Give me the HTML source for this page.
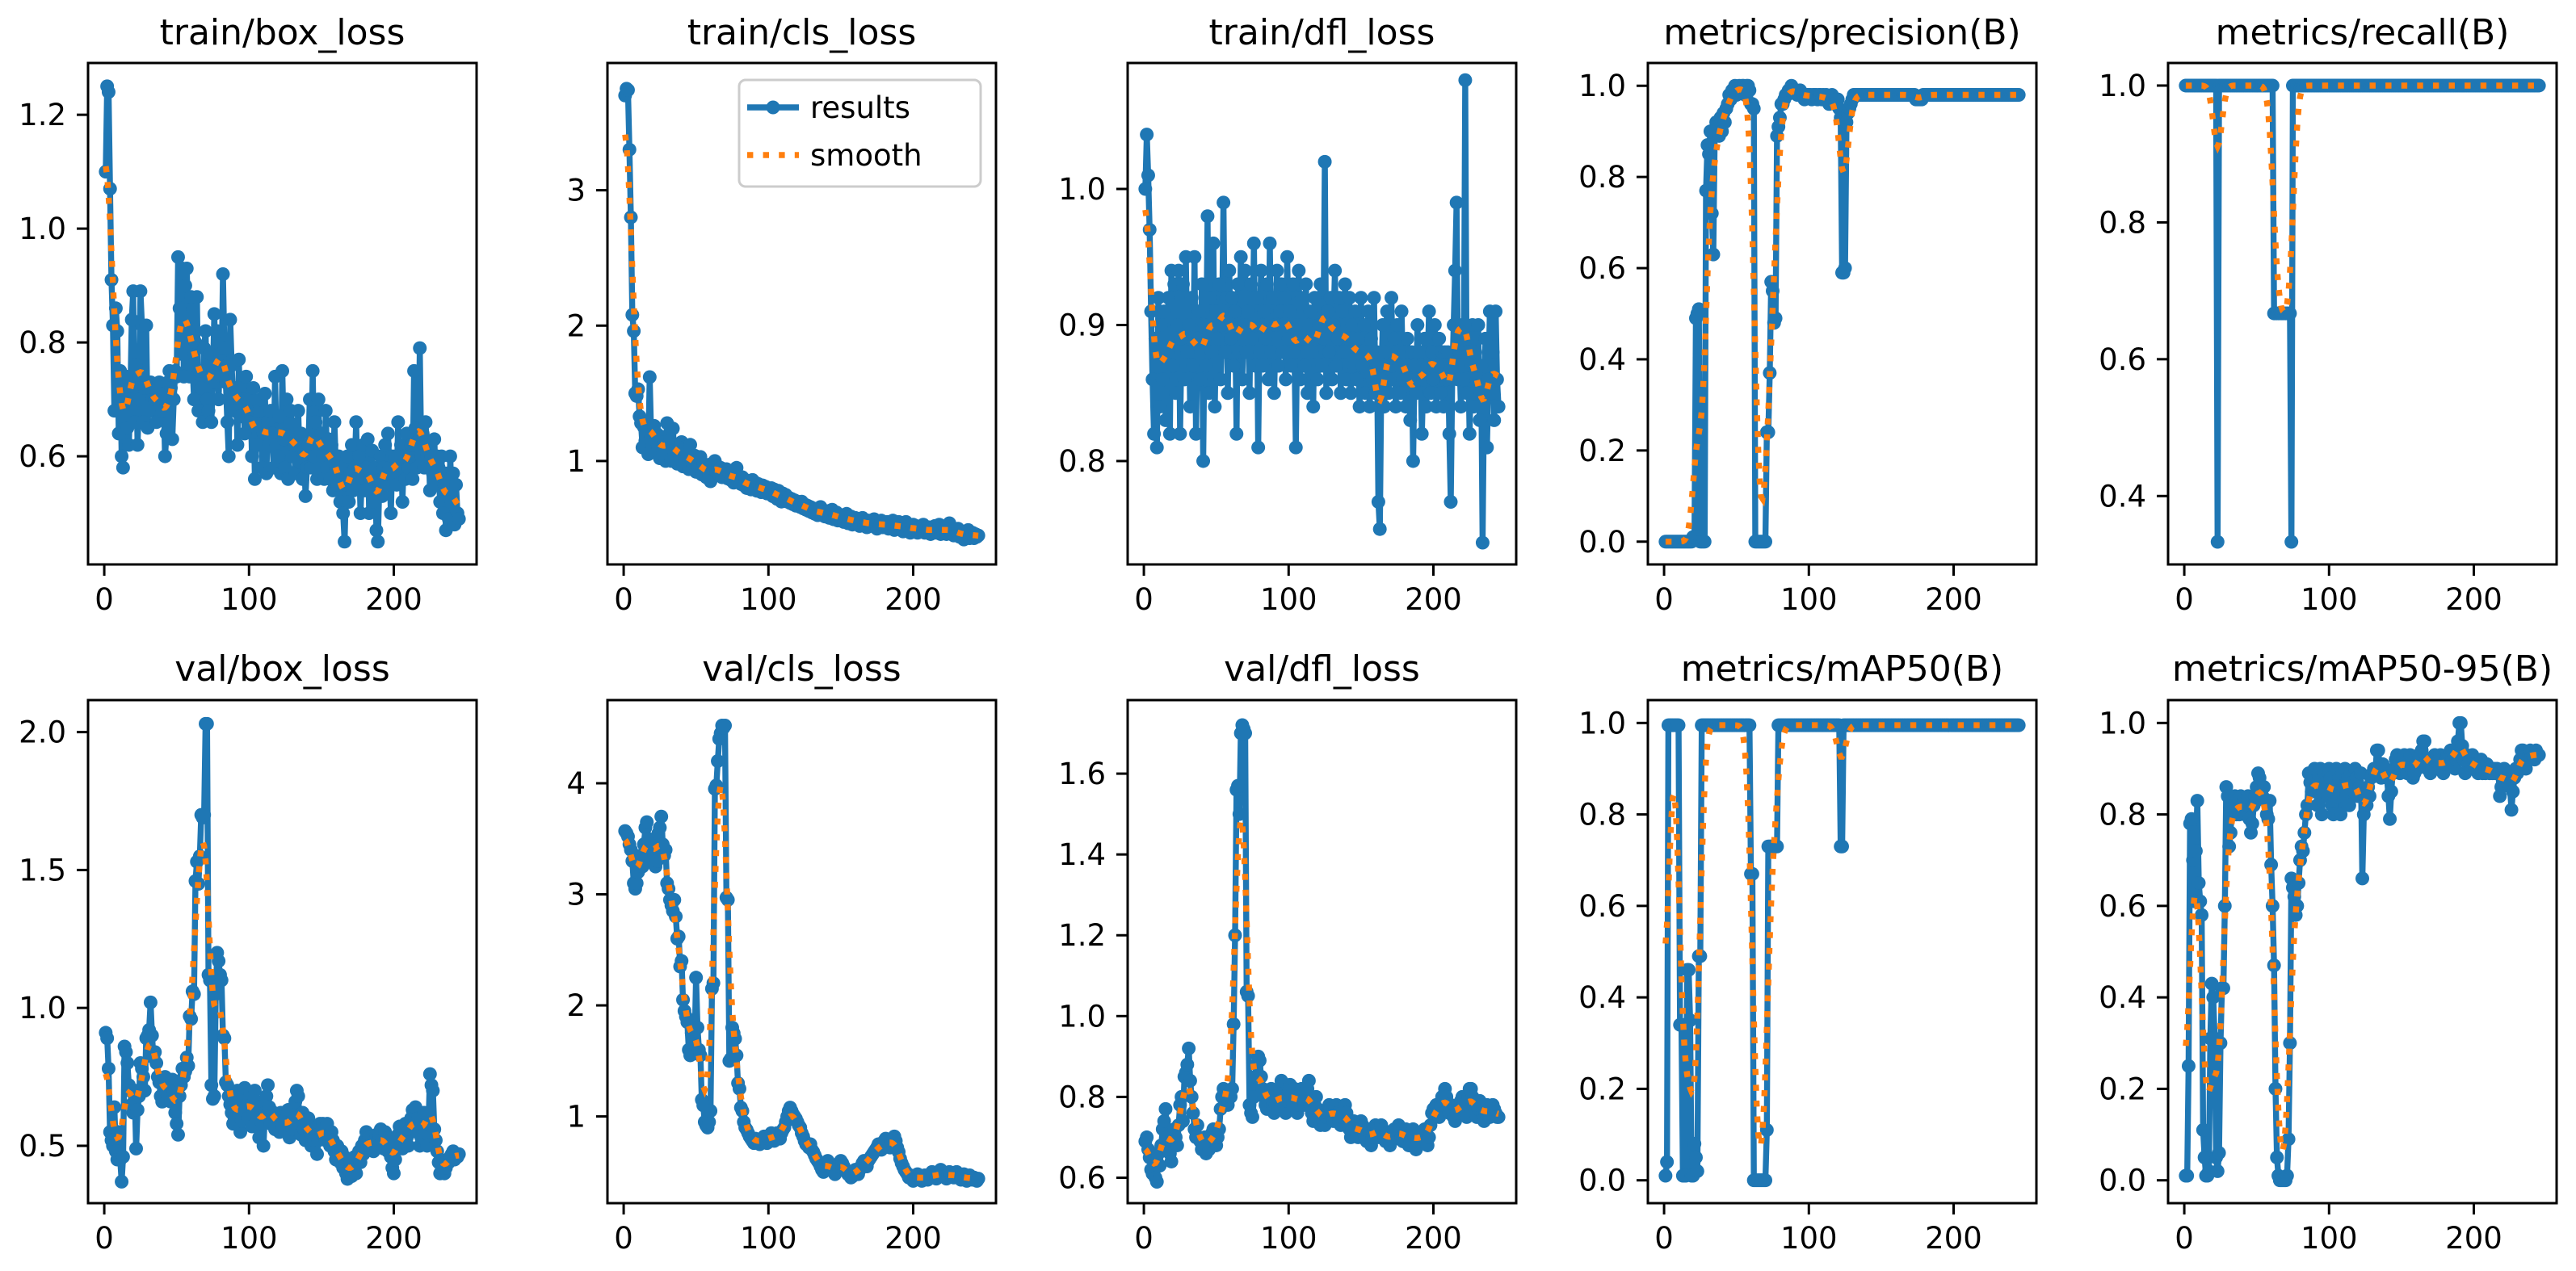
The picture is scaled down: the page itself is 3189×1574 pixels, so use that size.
<!DOCTYPE html>
<html><head><meta charset="utf-8"><title>results</title>
<style>html,body{margin:0;padding:0;background:#fff}svg{display:block}text{font-family:"DejaVu Sans","Liberation Sans",sans-serif}</style>
</head><body>
<svg id="chart" xmlns="http://www.w3.org/2000/svg" width="3189" height="1574" viewBox="0 0 3189 1574">
<rect width="3189" height="1574" fill="#fff"/>
</svg>
<script>
const titles = ["train/box_loss","train/cls_loss","train/dfl_loss","metrics/precision(B)","metrics/recall(B)","val/box_loss","val/cls_loss","val/dfl_loss","metrics/mAP50(B)","metrics/mAP50-95(B)"];
const xTicks = [0,100,200];
const yTicks0 = [0.6,0.8,1.0,1.2];
const yTicks1 = [1,2,3];
const yTicks2 = [0.8,0.9,1.0];
const yTicks3 = [0.0,0.2,0.4,0.6,0.8,1.0];
const yTicks4 = [0.4,0.6,0.8,1.0];
const yTicks5 = [0.5,1.0,1.5,2.0];
const yTicks6 = [1,2,3,4];
const yTicks7 = [0.6,0.8,1.0,1.2,1.4,1.6];
const yTicks8 = [0.0,0.2,0.4,0.6,0.8,1.0];
const yTicks9 = [0.0,0.2,0.4,0.6,0.8,1.0];
const yLims = [[0.41,1.291],[0.236,3.94],[0.724,1.0926],[-0.05,1.05],[0.3,1.033],[0.292,2.116],[0.219,4.749],[0.537,1.782],[-0.05,1.05],[-0.05,1.05]];

const trainBox = [1.10,1.25,1.24,1.07,0.91,0.83,0.68,0.86,0.82,0.64,
0.75,0.60,0.58,0.67,0.74,0.65,0.62,0.70,0.84,0.89,
0.66,0.76,0.62,0.70,0.89,0.83,0.66,0.72,0.83,0.65,
0.72,0.73,0.68,0.72,0.70,0.66,0.71,0.73,0.69,0.68,
0.71,0.60,0.64,0.73,0.75,0.72,0.63,0.70,0.75,0.74,
0.95,0.86,0.78,0.93,0.74,0.90,0.93,0.82,0.74,0.88,
0.76,0.70,0.80,0.88,0.68,0.75,0.72,0.66,0.79,0.82,
0.70,0.68,0.78,0.66,0.74,0.85,0.73,0.82,0.70,0.78,
0.74,0.92,0.79,0.73,0.66,0.60,0.84,0.76,0.70,0.68,
0.72,0.62,0.77,0.67,0.72,0.70,0.64,0.74,0.68,0.66,
0.70,0.60,0.72,0.56,0.66,0.62,0.68,0.70,0.58,0.64,
0.71,0.57,0.66,0.62,0.68,0.64,0.58,0.74,0.62,0.60,
0.67,0.57,0.75,0.63,0.58,0.70,0.56,0.66,0.68,0.60,
0.62,0.57,0.63,0.68,0.59,0.64,0.56,0.61,0.53,0.58,
0.62,0.70,0.58,0.75,0.60,0.66,0.56,0.70,0.58,0.64,
0.60,0.56,0.68,0.58,0.63,0.56,0.62,0.54,0.66,0.58,
0.55,0.60,0.52,0.58,0.50,0.45,0.55,0.60,0.52,0.57,
0.62,0.54,0.58,0.66,0.55,0.60,0.50,0.57,0.62,0.54,
0.58,0.63,0.50,0.56,0.61,0.52,0.58,0.47,0.45,0.55,
0.60,0.53,0.58,0.62,0.55,0.64,0.58,0.50,0.60,0.56,
0.60,0.55,0.66,0.58,0.62,0.52,0.60,0.56,0.64,0.58,
0.60,0.62,0.56,0.75,0.65,0.58,0.62,0.79,0.60,0.64,
0.58,0.66,0.60,0.62,0.54,0.60,0.57,0.63,0.55,0.60,
0.58,0.52,0.60,0.50,0.55,0.47,0.57,0.49,0.60,0.52,
0.57,0.48,0.55,0.50,0.49];
const trainCls = [3.70,3.75,3.74,3.30,2.80,2.08,1.96,1.50,1.48,1.53,
1.33,1.28,1.10,1.25,1.15,1.22,1.05,1.62,1.18,1.12,
1.26,1.08,1.20,1.10,1.02,1.18,1.06,1.14,1.00,1.28,
1.08,1.15,1.00,1.24,1.05,1.12,0.98,1.08,1.02,1.14,
0.96,1.10,1.00,1.05,0.94,1.12,1.00,0.96,1.04,0.92,
1.00,0.95,1.03,0.90,0.98,0.93,0.88,0.96,0.90,0.85,
0.98,0.94,1.00,0.92,0.96,0.90,0.95,0.88,0.93,0.90,
0.94,0.87,0.91,0.86,0.90,0.84,0.89,0.95,0.85,0.88,
0.83,0.88,0.82,0.86,0.80,0.85,0.82,0.79,0.86,0.80,
0.84,0.78,0.83,0.80,0.77,0.82,0.78,0.81,0.76,0.80,
0.77,0.80,0.74,0.79,0.75,0.72,0.78,0.74,0.70,0.76,
0.72,0.75,0.70,0.73,0.69,0.72,0.68,0.71,0.67,0.70,
0.68,0.66,0.70,0.65,0.68,0.64,0.67,0.63,0.66,0.62,
0.65,0.61,0.64,0.60,0.63,0.66,0.60,0.62,0.59,0.61,
0.63,0.58,0.61,0.64,0.57,0.60,0.62,0.56,0.59,0.57,
0.60,0.55,0.58,0.61,0.54,0.57,0.59,0.53,0.56,0.58,
0.54,0.57,0.52,0.56,0.58,0.53,0.55,0.51,0.56,0.53,
0.55,0.52,0.57,0.53,0.50,0.55,0.52,0.56,0.51,0.54,
0.52,0.55,0.50,0.54,0.51,0.56,0.49,0.53,0.51,0.55,
0.50,0.53,0.48,0.52,0.55,0.49,0.52,0.47,0.51,0.53,
0.49,0.52,0.47,0.51,0.50,0.48,0.53,0.47,0.50,0.48,
0.51,0.46,0.50,0.48,0.52,0.47,0.49,0.53,0.46,0.50,
0.48,0.51,0.46,0.49,0.54,0.47,0.50,0.45,0.49,0.47,
0.50,0.44,0.48,0.46,0.42,0.47,0.45,0.49,0.43,0.46,
0.47,0.43,0.46,0.44,0.45];
const trainDfl = [1.00,1.04,1.01,0.97,0.91,0.86,0.82,0.89,0.81,0.92,
0.84,0.90,0.86,0.91,0.83,0.88,0.92,0.82,0.94,0.87,
0.93,0.85,0.90,0.94,0.82,0.89,0.93,0.86,0.95,0.88,
0.90,0.84,0.92,0.87,0.95,0.82,0.89,0.91,0.86,0.93,
0.80,0.90,0.87,0.98,0.85,0.92,0.88,0.96,0.84,0.91,
0.89,0.93,0.86,0.90,0.99,0.88,0.92,0.85,0.94,0.89,
0.92,0.87,0.91,0.82,0.93,0.88,0.95,0.86,0.90,0.94,
0.88,0.91,0.85,0.93,0.89,0.96,0.87,0.92,0.81,0.90,
0.94,0.87,0.91,0.89,0.93,0.86,0.96,0.88,0.92,0.85,
0.90,0.94,0.87,0.91,0.93,0.88,0.92,0.86,0.95,0.89,
0.91,0.87,0.93,0.88,0.81,0.90,0.94,0.86,0.92,0.89,
0.87,0.93,0.85,0.90,0.91,0.88,0.84,0.92,0.89,0.86,
0.90,0.93,0.87,0.89,1.02,0.85,0.91,0.88,0.92,0.86,
0.90,0.94,0.87,0.89,0.92,0.85,0.91,0.88,0.93,0.86,
0.89,0.92,0.85,0.90,0.87,0.91,0.86,0.89,0.84,0.92,
0.87,0.90,0.85,0.88,0.91,0.84,0.89,0.86,0.92,0.85,
0.88,0.77,0.75,0.86,0.90,0.84,0.88,0.91,0.85,0.87,
0.92,0.86,0.89,0.84,0.90,0.87,0.85,0.91,0.86,0.88,
0.84,0.89,0.86,0.83,0.88,0.80,0.87,0.85,0.90,0.86,
0.88,0.82,0.86,0.89,0.84,0.87,0.91,0.85,0.88,0.86,
0.90,0.84,0.87,0.89,0.85,0.88,0.84,0.88,0.86,0.88,
0.82,0.77,0.86,0.90,0.94,0.99,0.86,0.88,0.84,0.90,
0.86,1.08,0.85,0.88,0.82,0.87,0.90,0.84,0.88,0.86,
0.90,0.83,0.87,0.74,0.85,0.89,0.81,0.86,0.91,0.85,
0.88,0.83,0.91,0.86,0.84];
const precision = [0,0,0,0,0,0,0,0,0,0,
0,0,0,0,0,0,0,0,0,0.01,
0.01,0.49,0.50,0.51,0,0,0,0,0.77,0.87,
0.85,0.90,0.72,0.63,0.90,0.92,0.91,0.89,0.93,0.90,
0.94,0.92,0.95,0.96,0.98,0.97,0.99,0.99,1.0,0.98,
0.99,1.0,0.99,1.0,1.0,0.98,1.0,1.0,0.99,0.96,
0.96,0.95,0,0,0,0,0,0,0,0,
0.24,0.24,0.37,0.57,0.55,0.48,0.49,0.89,0.91,0.93,
0.96,0.96,0.97,0.98,0.98,0.99,0.99,1.0,0.99,0.99,
0.99,0.98,0.98,0.99,0.98,0.98,0.97,0.98,0.98,0.98,
0.98,0.97,0.98,0.98,0.98,0.97,0.98,0.98,0.97,0.98,
0.97,0.98,0.97,0.96,0.97,0.98,0.97,0.96,0.97,0.97,
0.95,0.93,0.59,0.59,0.60,0.92,0.94,0.95,0.96,0.97,
0.98,0.98,0.98,0.98,0.98,0.98,0.98,0.98,0.98,0.98,
0.98,0.98,0.98,0.98,0.98,0.98,0.98,0.98,0.98,0.98,
0.98,0.98,0.98,0.98,0.98,0.98,0.98,0.98,0.98,0.98,
0.98,0.98,0.98,0.98,0.98,0.98,0.98,0.98,0.98,0.98,
0.98,0.98,0.98,0.97,0.97,0.97,0.97,0.97,0.98,0.98,
0.98,0.98,0.98,0.98,0.98,0.98,0.98,0.98,0.98,0.98,
0.98,0.98,0.98,0.98,0.98,0.98,0.98,0.98,0.98,0.98,
0.98,0.98,0.98,0.98,0.98,0.98,0.98,0.98,0.98,0.98,
0.98,0.98,0.98,0.98,0.98,0.98,0.98,0.98,0.98,0.98,
0.98,0.98,0.98,0.98,0.98,0.98,0.98,0.98,0.98,0.98,
0.98,0.98,0.98,0.98,0.98,0.98,0.98,0.98,0.98,0.98,
0.98,0.98,0.98,0.98,0.98];
const recall = [1,1,1,1,1,1,1,1,1,1,
1,1,1,1,1,1,1,1,1,1,
1,1,0.333,1,1,1,1,1,1,1,
1,1,1,1,1,1,1,1,1,1,
1,1,1,1,1,1,1,1,1,1,
1,1,1,1,1,1,1,1,1,1,
1,0.667,0.667,0.667,0.667,0.667,0.667,0.667,0.667,0.667,
0.667,0.667,0.667,0.333,1,1,1,1,1,1,
1,1,1,1,1,1,1,1,1,1,
1,1,1,1,1,1,1,1,1,1,
1,1,1,1,1,1,1,1,1,1,
1,1,1,1,1,1,1,1,1,1,
1,1,1,1,1,1,1,1,1,1,
1,1,1,1,1,1,1,1,1,1,
1,1,1,1,1,1,1,1,1,1,
1,1,1,1,1,1,1,1,1,1,
1,1,1,1,1,1,1,1,1,1,
1,1,1,1,1,1,1,1,1,1,
1,1,1,1,1,1,1,1,1,1,
1,1,1,1,1,1,1,1,1,1,
1,1,1,1,1,1,1,1,1,1,
1,1,1,1,1,1,1,1,1,1,
1,1,1,1,1,1,1,1,1,1,
1,1,1,1,1,1,1,1,1,1,
1,1,1,1,1];
const valBox = [0.91,0.89,0.78,0.55,0.52,0.50,0.64,0.48,0.45,0.55,
0.45,0.37,0.46,0.86,0.84,0.80,0.72,0.70,0.65,0.62,
0.70,0.49,0.63,0.68,0.80,0.78,0.75,0.70,0.89,0.90,
0.92,1.02,0.90,0.82,0.84,0.80,0.75,0.73,0.68,0.66,
0.74,0.75,0.70,0.68,0.72,0.66,0.74,0.70,0.62,0.58,
0.54,0.68,0.72,0.78,0.75,0.77,0.82,0.79,0.97,0.96,
1.06,1.05,1.46,1.53,1.45,1.55,1.70,1.69,1.70,2.03,
2.03,1.12,1.10,0.72,0.67,0.68,1.05,1.20,1.17,1.12,
1.10,0.90,0.89,0.73,0.72,0.68,0.65,0.62,0.58,0.60,
0.66,0.70,0.62,0.55,0.59,0.68,0.71,0.64,0.60,0.66,
0.69,0.57,0.63,0.70,0.66,0.60,0.53,0.64,0.58,0.50,
0.62,0.68,0.72,0.64,0.58,0.60,0.62,0.56,0.61,0.59,
0.55,0.62,0.57,0.59,0.55,0.60,0.63,0.53,0.58,0.56,
0.60,0.66,0.70,0.68,0.58,0.54,0.62,0.56,0.52,0.58,
0.60,0.55,0.50,0.57,0.52,0.56,0.47,0.52,0.58,0.55,
0.58,0.55,0.52,0.58,0.54,0.50,0.55,0.52,0.48,0.45,
0.50,0.47,0.44,0.48,0.42,0.46,0.40,0.38,0.41,0.44,
0.39,0.42,0.46,0.40,0.45,0.48,0.44,0.50,0.47,0.52,
0.55,0.50,0.53,0.49,0.52,0.48,0.51,0.54,0.50,0.53,
0.56,0.52,0.49,0.55,0.51,0.48,0.53,0.46,0.42,0.40,
0.45,0.50,0.54,0.57,0.52,0.49,0.55,0.58,0.53,0.50,
0.56,0.60,0.63,0.58,0.64,0.55,0.60,0.50,0.53,0.58,
0.62,0.55,0.50,0.58,0.76,0.72,0.70,0.56,0.52,0.48,
0.44,0.40,0.41,0.43,0.40,0.42,0.45,0.44,0.46,0.47,
0.48,0.45,0.47,0.46,0.47];
const valCls = [3.57,3.55,3.52,3.45,3.40,3.30,3.10,3.05,3.10,3.20,
3.30,3.35,3.25,3.45,3.60,3.65,3.50,3.40,3.30,3.45,
3.35,3.25,3.30,3.55,3.60,3.70,3.45,3.35,3.40,3.10,
3.05,2.95,2.90,2.85,2.95,2.80,2.60,2.62,2.35,2.40,
2.05,1.95,1.90,1.85,1.60,1.55,1.75,1.70,1.65,2.25,
1.80,1.60,1.55,1.15,1.10,0.95,0.92,0.90,0.95,1.05,
2.15,2.20,3.95,3.98,4.20,4.40,4.45,4.52,4.50,4.52,
2.97,2.95,1.50,1.52,1.80,1.75,1.70,1.55,1.30,1.25,
1.08,1.05,0.95,0.90,0.88,0.85,0.82,0.80,0.78,0.76,
0.80,0.78,0.76,0.75,0.78,0.80,0.82,0.78,0.76,0.80,
0.82,0.85,0.80,0.78,0.82,0.85,0.84,0.80,0.85,0.88,
0.90,0.95,1.00,1.05,1.08,1.05,1.02,1.00,0.98,0.95,
0.92,0.90,0.85,0.82,0.78,0.75,0.74,0.72,0.75,0.70,
0.68,0.65,0.62,0.60,0.58,0.55,0.52,0.50,0.55,0.58,
0.60,0.58,0.55,0.52,0.50,0.48,0.50,0.55,0.58,0.60,
0.58,0.55,0.52,0.50,0.48,0.47,0.45,0.46,0.48,0.52,
0.50,0.48,0.52,0.55,0.58,0.60,0.58,0.55,0.60,0.62,
0.64,0.66,0.68,0.70,0.72,0.75,0.72,0.70,0.74,0.78,
0.80,0.78,0.75,0.72,0.78,0.80,0.82,0.78,0.72,0.68,
0.62,0.58,0.55,0.52,0.50,0.48,0.45,0.47,0.44,0.42,
0.44,0.45,0.48,0.46,0.44,0.42,0.45,0.47,0.44,0.43,
0.45,0.48,0.50,0.47,0.45,0.44,0.46,0.49,0.52,0.50,
0.48,0.46,0.44,0.47,0.50,0.48,0.46,0.45,0.48,0.50,
0.47,0.45,0.43,0.46,0.48,0.44,0.42,0.45,0.47,0.44,
0.43,0.45,0.44,0.42,0.44];
const valDfl = [0.69,0.70,0.67,0.65,0.62,0.61,0.64,0.60,0.59,0.66,
0.63,0.68,0.72,0.74,0.77,0.70,0.68,0.66,0.64,0.70,
0.72,0.70,0.68,0.73,0.78,0.80,0.74,0.85,0.86,0.88,
0.92,0.84,0.80,0.76,0.72,0.70,0.73,0.70,0.69,0.67,
0.68,0.70,0.66,0.68,0.67,0.69,0.71,0.72,0.70,0.68,
0.70,0.72,0.77,0.80,0.82,0.79,0.80,0.78,0.81,0.80,
0.82,0.98,1.20,1.56,1.57,1.50,1.70,1.72,1.71,1.70,
1.06,1.05,0.78,0.76,0.75,0.80,0.85,0.88,0.90,0.89,
0.85,0.82,0.80,0.78,0.77,0.79,0.80,0.82,0.78,0.76,
0.78,0.80,0.77,0.82,0.84,0.80,0.78,0.76,0.79,0.81,
0.83,0.80,0.78,0.82,0.80,0.76,0.78,0.80,0.82,0.79,
0.78,0.80,0.82,0.84,0.78,0.76,0.74,0.78,0.80,0.77,
0.76,0.73,0.75,0.74,0.73,0.75,0.76,0.78,0.77,0.75,
0.74,0.77,0.78,0.76,0.74,0.73,0.75,0.77,0.78,0.76,
0.74,0.72,0.70,0.72,0.74,0.73,0.71,0.70,0.72,0.74,
0.73,0.71,0.70,0.69,0.72,0.71,0.68,0.70,0.72,0.73,
0.72,0.70,0.71,0.73,0.72,0.70,0.69,0.71,0.70,0.68,
0.69,0.71,0.72,0.70,0.71,0.73,0.72,0.70,0.69,0.71,
0.72,0.70,0.68,0.69,0.71,0.72,0.70,0.67,0.69,0.71,
0.71,0.69,0.70,0.72,0.70,0.68,0.70,0.73,0.76,0.77,
0.77,0.78,0.76,0.75,0.78,0.80,0.79,0.82,0.80,0.78,
0.76,0.78,0.77,0.75,0.74,0.76,0.78,0.77,0.79,0.80,
0.78,0.76,0.75,0.80,0.82,0.82,0.80,0.78,0.76,0.75,
0.77,0.79,0.78,0.76,0.74,0.76,0.78,0.77,0.75,0.76,
0.78,0.77,0.76,0.75,0.75];
const map50 = [0.01,0.04,0.995,0.995,0.995,0.995,0.995,0.995,0.995,0.995,
0.34,0.34,0.01,0.01,0.01,0.46,0.46,0.35,0.01,0.01,
0.08,0.05,0.02,0.49,0.49,0.995,0.995,0.995,0.995,0.995,
0.995,0.995,0.995,0.995,0.995,0.995,0.995,0.995,0.995,0.995,
0.995,0.995,0.995,0.995,0.995,0.995,0.995,0.995,0.995,0.995,
0.995,0.995,0.995,0.995,0.995,0.995,0.995,0.995,0.995,0.67,
0.67,0,0,0,0,0,0,0,0,0,
0.11,0.73,0.73,0.73,0.73,0.73,0.73,0.73,0.995,0.995,
0.995,0.995,0.995,0.995,0.995,0.995,0.995,0.995,0.995,0.995,
0.995,0.995,0.995,0.995,0.995,0.995,0.995,0.995,0.995,0.995,
0.995,0.995,0.995,0.995,0.995,0.995,0.995,0.995,0.995,0.995,
0.995,0.995,0.995,0.995,0.995,0.995,0.995,0.995,0.995,0.995,
0.995,0.73,0.73,0.995,0.995,0.995,0.995,0.995,0.995,0.995,
0.995,0.995,0.995,0.995,0.995,0.995,0.995,0.995,0.995,0.995,
0.995,0.995,0.995,0.995,0.995,0.995,0.995,0.995,0.995,0.995,
0.995,0.995,0.995,0.995,0.995,0.995,0.995,0.995,0.995,0.995,
0.995,0.995,0.995,0.995,0.995,0.995,0.995,0.995,0.995,0.995,
0.995,0.995,0.995,0.995,0.995,0.995,0.995,0.995,0.995,0.995,
0.995,0.995,0.995,0.995,0.995,0.995,0.995,0.995,0.995,0.995,
0.995,0.995,0.995,0.995,0.995,0.995,0.995,0.995,0.995,0.995,
0.995,0.995,0.995,0.995,0.995,0.995,0.995,0.995,0.995,0.995,
0.995,0.995,0.995,0.995,0.995,0.995,0.995,0.995,0.995,0.995,
0.995,0.995,0.995,0.995,0.995,0.995,0.995,0.995,0.995,0.995,
0.995,0.995,0.995,0.995,0.995,0.995,0.995,0.995,0.995,0.995,
0.995,0.995,0.995,0.995,0.995];
const map5095 = [0.01,0.01,0.25,0.78,0.79,0.70,0.61,0.72,0.83,0.65,
0.61,0.58,0.11,0.05,0.01,0.01,0.02,0.31,0.43,0.40,
0.31,0.05,0.02,0.06,0.30,0.42,0.42,0.60,0.86,0.84,
0.73,0.76,0.83,0.82,0.84,0.80,0.81,0.80,0.84,0.82,
0.83,0.80,0.82,0.84,0.79,0.76,0.78,0.82,0.84,0.86,
0.89,0.88,0.85,0.84,0.86,0.83,0.80,0.79,0.83,0.69,
0.60,0.47,0.20,0.05,0.01,0,0,0,0,0,
0.01,0.09,0.30,0.66,0.64,0.62,0.58,0.60,0.65,0.70,
0.73,0.72,0.76,0.80,0.82,0.89,0.87,0.85,0.88,0.90,
0.86,0.82,0.88,0.90,0.80,0.85,0.89,0.87,0.84,0.90,
0.88,0.82,0.80,0.86,0.90,0.84,0.88,0.80,0.89,0.86,
0.90,0.84,0.88,0.82,0.89,0.87,0.85,0.90,0.88,0.84,
0.86,0.89,0.66,0.80,0.84,0.82,0.86,0.84,0.88,0.89,
0.90,0.89,0.94,0.94,0.90,0.88,0.91,0.89,0.90,0.88,
0.84,0.79,0.85,0.89,0.90,0.92,0.93,0.91,0.89,0.90,
0.92,0.93,0.90,0.89,0.91,0.93,0.90,0.88,0.89,0.91,
0.90,0.93,0.92,0.94,0.96,0.96,0.92,0.90,0.91,0.89,
0.90,0.92,0.93,0.91,0.90,0.92,0.93,0.90,0.89,0.91,
0.92,0.93,0.91,0.94,0.92,0.93,0.90,0.92,0.96,1.0,
1.0,0.95,0.92,0.89,0.93,0.91,0.92,0.90,0.93,0.91,
0.90,0.91,0.89,0.90,0.92,0.89,0.90,0.89,0.91,0.90,
0.89,0.90,0.89,0.90,0.89,0.90,0.89,0.84,0.86,0.89,
0.90,0.89,0.88,0.89,0.86,0.81,0.85,0.88,0.90,0.89,
0.90,0.92,0.94,0.94,0.93,0.90,0.92,0.93,0.94,0.93,
0.93,0.92,0.94,0.93,0.93];

const series = [trainBox,trainCls,trainDfl,precision,recall,valBox,valCls,valDfl,map50,map5095];
const yTicksAll = [yTicks0,yTicks1,yTicks2,yTicks3,yTicks4,yTicks5,yTicks6,yTicks7,yTicks8,yTicks9];
const names = ["train-box-loss","train-cls-loss","train-dfl-loss","precision","recall","val-box-loss","val-cls-loss","val-dfl-loss","map50","map50-95"];

const NS = "http://www.w3.org/2000/svg";
const svg = document.getElementById("chart");
const LEFTS = [109,752,1396,2040,2684], W = 481;
const ROWS = [[78,699],[867,1490]];
const XMIN = -11.2, XMAX = 257.2;
const BLUE = "#1f77b4", ORANGE = "#ff7f0e";

function mk(tag, attrs, parent){const e=document.createElementNS(NS,tag);for(const k in attrs)e.setAttribute(k,attrs[k]);(parent||svg).appendChild(e);return e;}

function gauss(y, s){
  const r = Math.round(4*s), w=[];let sum=0;
  for(let k=-r;k<=r;k++){const v=Math.exp(-0.5*k*k/(s*s));w.push(v);sum+=v;}
  const n=y.length, out=[];
  const idx=i=>{while(i<0||i>=n){if(i<0)i=-i-1;if(i>=n)i=2*n-i-1;}return i;};
  for(let i=0;i<n;i++){let a=0;for(let k=-r;k<=r;k++)a+=w[k+r]*y[idx(i+k)];out.push(a/sum);}
  return out;
}
function fmt(v, ticks){
  const dec = ticks.some(t=>Math.abs(t-Math.round(t))>1e-9) ? 1 : 0;
  return v.toFixed(dec);
}

series.forEach((data, p) => {
  const col = p % 5, row = Math.floor(p / 5);
  const L = LEFTS[col], T = ROWS[row][0], B = ROWS[row][1];
  const [ymin, ymax] = yLims[p];
  const sx = x => L + (x - XMIN) / (XMAX - XMIN) * W;
  const sy = y => B - (y - ymin) / (ymax - ymin) * (B - T);
  const g = mk("g", {});
  
  
  const clipId = "clip" + p;
  const cp = mk("clipPath", {id: clipId}, g);
  mk("rect", {x: L, y: T, width: W, height: B - T}, cp);

  const title = mk("text", {x: L + W/2, y: row ? 843 : 55, "text-anchor": "middle", "font-size": 44, fill: "#000"}, g);
  title.textContent = titles[p];
  
  

  xTicks.forEach(t => {
    const x = sx(t);
    const tk = mk("line", {x1: x, x2: x, y1: B, y2: B + 14, stroke: "#000", "stroke-width": 3}, g);
    
    
    const lb = mk("text", {x: x, y: B + 56, "text-anchor": "middle", "font-size": 37, fill: "#000"}, g);
    lb.textContent = String(t);
    
    
  });
  const yt = yTicksAll[p];
  yt.forEach(t => {
    const y = sy(t);
    const tk = mk("line", {x1: L - 14, x2: L, y1: y, y2: y, stroke: "#000", "stroke-width": 3}, g);
    
    
    const lb = mk("text", {x: L - 27, y: y + 13, "text-anchor": "end", "font-size": 37, fill: "#000"}, g);
    lb.textContent = fmt(t, yt);
    
    
  });

  const pg = mk("g", {"clip-path": "url(#" + clipId + ")"}, g);
  const pts = data.map((v, i) => sx(i + 1).toFixed(1) + "," + sy(v).toFixed(1)).join(" ");
  const line = mk("polyline", {points: pts, fill: "none", stroke: BLUE, "stroke-width": 7.4, "stroke-linejoin": "round"}, pg);
  
  
  data.forEach((v, i) => {
    const c = mk("circle", {cx: sx(i + 1), cy: sy(v), r: 8.5, fill: BLUE}, pg);
    
    
  });
  const sm = gauss(data, 3);
  const spts = sm.map((v, i) => sx(i + 1).toFixed(1) + "," + sy(v).toFixed(1)).join(" ");
  const sl = mk("polyline", {points: spts, fill: "none", stroke: ORANGE, "stroke-width": 7.4, "stroke-dasharray": "7.4 12.2"}, pg);
  
  

  const fr = mk("rect", {x: L, y: T, width: W, height: B - T, fill: "none", stroke: "#000", "stroke-width": 3}, g);
  
  
});

// legend in train/cls_loss panel
const lg = mk("g", {});


mk("rect", {x: 915, y: 99, width: 299, height: 132, rx: 8, fill: "#fff", "fill-opacity": 0.85, stroke: "#cccccc", "stroke-width": 3}, lg);
const le1 = mk("g", {}, lg);


mk("line", {x1: 925, x2: 989, y1: 133, y2: 133, stroke: BLUE, "stroke-width": 7.4}, le1);
mk("circle", {cx: 957, cy: 133, r: 8.5, fill: BLUE}, le1);
const t1 = mk("text", {x: 1003, y: 146, "font-size": 37, fill: "#000"}, le1);
t1.textContent = "results";
const le2 = mk("g", {}, lg);


mk("line", {x1: 925, x2: 989, y1: 192, y2: 192, stroke: ORANGE, "stroke-width": 7.4, "stroke-dasharray": "7.4 12.2"}, le2);
const t2 = mk("text", {x: 1003, y: 205, "font-size": 37, fill: "#000"}, le2);
t2.textContent = "smooth";
</script>
</body></html>
